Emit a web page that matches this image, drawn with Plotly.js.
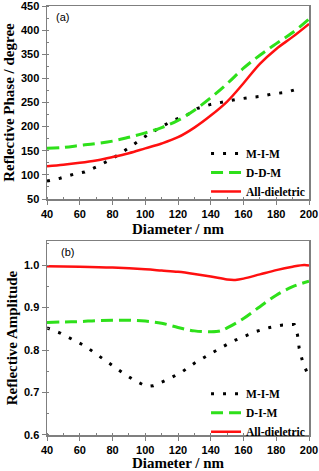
<!DOCTYPE html>
<html>
<head>
<meta charset="utf-8">
<script src="https://cdn.plot.ly/plotly-3.0.1.min.js"></script>
<style>html,body{margin:0;padding:0;background:#fff;}#chart{width:319px;height:471px;}</style>
</head>
<body>
<div id="chart"></div>
<script>
// ---- Panel (a): reflective phase ----
const phaseMIM_x = [40,48,56,63,71,79,86,94,101,109,117,125,132,140,148,155,163,171,178,186,194];
const phaseMIM_y = [87,93,101,106,118,132,147,165,182,198,213,223,238,246,252,256,260,263,268,271,279];
const phaseDDM_x = [40,50,60,70,80,90,100,110,120,130,140,150,160,170,180,190,200];
const phaseDDM_y = [155,157,161,165,170,178,187,198,213,234,260,289,321,348,372,395,423];
const phaseAD_x = [40,50,60,70,80,90,100,110,120,130,140,150,160,170,180,190,200];
const phaseAD_y = [118,121,125,130,137,145,155,165,178,198,223,252,290,330,361,386,413];

// ---- Panel (b): reflective amplitude ----
const ampMIM_x = [40,48,56,63,71,79,86,94,101,105,115,123,130,138,146,153,161,168,176,184,191,193,194,196,199];
const ampMIM_y = [0.852,0.840,0.824,0.810,0.788,0.765,0.747,0.727,0.714,0.716,0.733,0.750,0.769,0.787,0.804,0.820,0.833,0.844,0.853,0.859,0.860,0.835,0.804,0.774,0.745];
const ampDIM_x = [40,50,60,70,80,90,100,110,120,130,140,146,150,160,170,180,190,200];
const ampDIM_y = [0.865,0.866,0.867,0.869,0.870,0.870,0.868,0.863,0.853,0.845,0.843,0.845,0.852,0.874,0.902,0.929,0.949,0.962];
const ampAD_x = [40,60,80,100,110,120,130,140,150,155,160,170,180,190,197,200];
const ampAD_y = [0.997,0.996,0.994,0.990,0.987,0.984,0.979,0.973,0.966,0.965,0.968,0.978,0.988,0.996,1.000,0.999];

const namesA = ["M-I-M","D-D-M","All-dieletric"];
const namesB = ["M-I-M","D-I-M","All-dieletric"];
const xTicks = [40,60,80,100,120,140,160,180,200];

const BLACK = "#000000", GREEN = "#2ee01a", RED = "#ff1010";
const dotLine = {color:BLACK, width:3, dash:"3px,9px"};
const dashLine = {color:GREEN, width:3, dash:"12px,6px", shape:"spline"};
const solidLine = {color:RED, width:2.5, shape:"spline"};

const traces = [
  {x:phaseMIM_x, y:phaseMIM_y, name:namesA[0], mode:"lines", line:dotLine, xaxis:"x", yaxis:"y", legend:"legend"},
  {x:phaseDDM_x, y:phaseDDM_y, name:namesA[1], mode:"lines", line:dashLine, xaxis:"x", yaxis:"y", legend:"legend"},
  {x:phaseAD_x, y:phaseAD_y, name:namesA[2], mode:"lines", line:solidLine, xaxis:"x", yaxis:"y", legend:"legend"},
  {x:ampMIM_x, y:ampMIM_y, name:namesB[0], mode:"lines", line:dotLine, xaxis:"x2", yaxis:"y2", legend:"legend2"},
  {x:ampDIM_x, y:ampDIM_y, name:namesB[1], mode:"lines", line:dashLine, xaxis:"x2", yaxis:"y2", legend:"legend2"},
  {x:ampAD_x, y:ampAD_y, name:namesB[2], mode:"lines", line:solidLine, xaxis:"x2", yaxis:"y2", legend:"legend2"}
];

const tickFont = {family:"Liberation Sans, Arial, sans-serif", size:11, color:"#000", weight:700};
const titleFont = {family:"Liberation Serif, Times New Roman, serif", size:15, color:"#000", weight:700};
const legFont = {family:"Liberation Serif, Times New Roman, serif", size:11.5, color:"#000", weight:700};
const frame = {showline:true, linecolor:"#7f7f7f", linewidth:1.5, mirror:true, ticks:"outside", ticklen:4, tickcolor:"#7f7f7f", tickwidth:1, showgrid:false, zeroline:false, tickfont:tickFont, ticklabeloverflow:"allow"};

function xax(anchor) {
  return Object.assign({}, frame, {anchor:anchor, domain:[0,1], range:[40,200], tickvals:xTicks,
    minor:{dtick:10, ticks:"inside", ticklen:2, tickcolor:"#7f7f7f"},
    title:{text:"Diameter / nm", font:titleFont, standoff:5}});
}

const layout = {
  width:319, height:471,
  margin:{l:47, r:10, t:6, b:36},
  paper_bgcolor:"#fff", plot_bgcolor:"#fff",
  showlegend:true,
  xaxis: xax("y"),
  yaxis: Object.assign({}, frame, {anchor:"x", domain:[0.5501,1], range:[50,450], dtick:50,
    minor:{dtick:25, ticks:"inside", ticklen:2, tickcolor:"#7f7f7f"},
    title:{text:"Reflective Phase / degree", font:titleFont, standoff:2}}),
  xaxis2: xax("y2"),
  yaxis2: Object.assign({}, frame, {anchor:"x2", domain:[0,0.4522], range:[0.6,1.0565], tickvals:[0.6,0.7,0.8,0.9,1.0], tickformat:".1f",
    minor:{dtick:0.05, ticks:"inside", ticklen:2, tickcolor:"#7f7f7f"},
    title:{text:"Reflective Amplitude", font:titleFont, standoff:2}}),
  legend:{x:0.607, xanchor:"left", y:0.69, yanchor:"top", bgcolor:"rgba(0,0,0,0)", font:legFont, itemwidth:30, tracegroupgap:0},
  legend2:{x:0.607, xanchor:"left", y:0.13, yanchor:"top", bgcolor:"rgba(0,0,0,0)", font:legFont, itemwidth:30, tracegroupgap:0},
  annotations:[
    {text:"(a)", xref:"x domain", yref:"y domain", x:0.027, y:0.943, xanchor:"left", yanchor:"middle", showarrow:false,
     font:{family:"Liberation Sans, Arial, sans-serif", size:11, color:"#000"}},
    {text:"(b)", xref:"x2 domain", yref:"y2 domain", x:0.046, y:0.943, xanchor:"left", yanchor:"middle", showarrow:false,
     font:{family:"Liberation Sans, Arial, sans-serif", size:11, color:"#000"}}
  ]
};

Plotly.newPlot("chart", traces, layout, {displayModeBar:false, staticPlot:true});
</script>
</body>
</html>
